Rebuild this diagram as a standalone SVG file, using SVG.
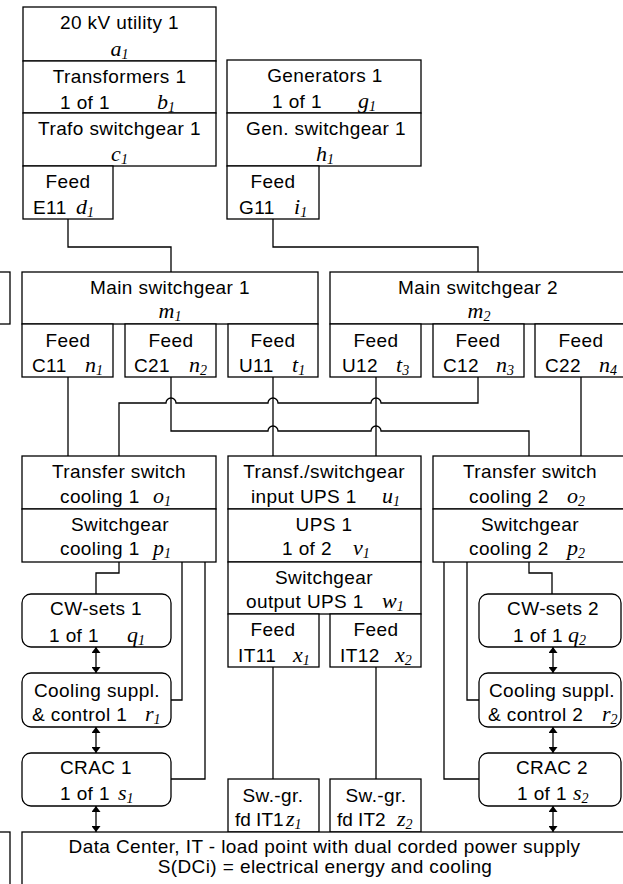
<svg xmlns="http://www.w3.org/2000/svg" width="623" height="884" viewBox="0 0 623 884">
<style>
.b{fill:#fff;stroke:#000;stroke-width:1.3}
.c{fill:none;stroke:#000;stroke-width:1.3}
text{font-family:"Liberation Sans",Arial,sans-serif;font-size:19px;letter-spacing:0.4px;fill:#000}
.m{text-anchor:middle}
.t{letter-spacing:0}
.v{font-family:"Liberation Serif","Times New Roman",serif;font-style:italic;font-size:22px;letter-spacing:0}
.s{font-size:14px}
</style>
<defs>
<marker id="ah" viewBox="0 0 10 10" refX="10" refY="5" markerWidth="6" markerHeight="9" markerUnits="userSpaceOnUse" orient="auto-start-reverse" preserveAspectRatio="none"><path d="M0,0 L10,5 L0,10 z" fill="#000"/></marker>
</defs>
<rect width="623" height="884" fill="#fff"/>

<g id="connectors">
<path class="c" d="M68,219 V247 H171 V272"/>
<path class="c" d="M273,219 V247 H478 V272"/>
<path class="c" d="M68,377 V456"/>
<path class="c" d="M478,377 V403 H381 A5,5 0 0 0 371,403 H278 A5,5 0 0 0 268,403 H176 A5,5 0 0 0 166,403 H119 V456"/>
<path class="c" d="M171,377 V431 H268 A5,5 0 0 1 278,431 H371 A5,5 0 0 1 381,431 H529 V456"/>
<path class="c" d="M273,377 V456"/>
<path class="c" d="M376,377 V456"/>
<path class="c" d="M581,377 V456"/>
<path class="c" d="M119,562 V573 H96 V594"/>
<path class="c" d="M182,562 V700 H171"/>
<path class="c" d="M205,562 V779 H171"/>
<path class="c" d="M529,562 V573 H552 V594"/>
<path class="c" d="M467,562 V700 H479"/>
<path class="c" d="M444,562 V779 H479"/>
<path class="c" d="M273,667 V779"/>
<path class="c" d="M376,667 V779"/>
<path class="c" d="M96,647 V673" marker-start="url(#ah)" marker-end="url(#ah)"/>
<path class="c" d="M96,727 V753" marker-start="url(#ah)" marker-end="url(#ah)"/>
<path class="c" d="M96,806 V832" marker-start="url(#ah)" marker-end="url(#ah)"/>
<path class="c" d="M553,647 V673" marker-start="url(#ah)" marker-end="url(#ah)"/>
<path class="c" d="M553,727 V753" marker-start="url(#ah)" marker-end="url(#ah)"/>
<path class="c" d="M553,806 V832" marker-start="url(#ah)" marker-end="url(#ah)"/>
</g>

<g id="left-partial-1"><rect class="b" x="-50" y="272" width="60" height="52"/></g>
<g id="left-partial-2"><rect class="b" x="-50" y="832" width="60" height="80"/></g>

<g id="a1"><rect class="b" x="23" y="7" width="193" height="54"/>
<text class="m" x="119.5" y="29">20 kV utility 1</text>
<text class="v m" x="119.5" y="56">a<tspan class="s" dy="3">1</tspan></text></g>

<g id="b1"><rect class="b" x="23" y="61" width="193" height="52"/>
<text class="m" x="119.5" y="83">Transformers 1</text>
<text x="60" y="109">1 of 1</text>
<text class="v" x="157" y="109">b<tspan class="s" dy="3">1</tspan></text></g>

<g id="c1"><rect class="b" x="23" y="113" width="193" height="53"/>
<text class="m" x="119.5" y="135">Trafo switchgear 1</text>
<text class="v m" x="119.5" y="161">c<tspan class="s" dy="3">1</tspan></text></g>

<g id="d1"><rect class="b" x="23" y="166" width="90" height="53"/>
<text class="m" x="68" y="188">Feed</text>
<text x="33" y="214">E11</text>
<text class="v" x="76" y="214">d<tspan class="s" dy="3">1</tspan></text></g>

<g id="g1"><rect class="b" x="227" y="60" width="194" height="53"/>
<text class="m" x="325" y="82">Generators 1</text>
<text x="272" y="108">1 of 1</text>
<text class="v" x="358" y="108">g<tspan class="s" dy="3">1</tspan></text></g>

<g id="h1"><rect class="b" x="227" y="113" width="194" height="53"/>
<text class="m" x="326" y="135">Gen. switchgear 1</text>
<text class="v m" x="325" y="161">h<tspan class="s" dy="3">1</tspan></text></g>

<g id="i1"><rect class="b" x="227" y="166" width="92" height="53"/>
<text class="m" x="273" y="188">Feed</text>
<text x="239" y="214">G11</text>
<text class="v" x="294" y="214">i<tspan class="s" dy="3">1</tspan></text></g>

<g id="m1"><rect class="b" x="22" y="272" width="296" height="52"/>
<text class="m" x="170" y="294">Main switchgear 1</text>
<text class="v m" x="170" y="318">m<tspan class="s" dy="3">1</tspan></text></g>

<g id="n1"><rect class="b" x="22" y="324" width="91" height="53"/>
<text class="m" x="68" y="347">Feed</text>
<text x="32" y="372">C11</text>
<text class="v" x="85" y="372">n<tspan class="s" dy="3">1</tspan></text></g>

<g id="n2"><rect class="b" x="125" y="324" width="91" height="53"/>
<text class="m" x="171" y="347">Feed</text>
<text x="134" y="372">C21</text>
<text class="v" x="189" y="372">n<tspan class="s" dy="3">2</tspan></text></g>

<g id="t1"><rect class="b" x="228" y="324" width="90" height="53"/>
<text class="m" x="273" y="347">Feed</text>
<text x="239" y="372">U11</text>
<text class="v" x="292" y="372">t<tspan class="s" dy="3">1</tspan></text></g>

<g id="m2"><rect class="b" x="330" y="272" width="294" height="52"/>
<text class="m" x="478" y="294">Main switchgear 2</text>
<text class="v m" x="479" y="318">m<tspan class="s" dy="3">2</tspan></text></g>

<g id="t3"><rect class="b" x="330" y="324" width="91" height="53"/>
<text class="m" x="376" y="347">Feed</text>
<text x="342" y="372">U12</text>
<text class="v" x="396" y="372">t<tspan class="s" dy="3">3</tspan></text></g>

<g id="n3"><rect class="b" x="433" y="324" width="91" height="53"/>
<text class="m" x="478" y="347">Feed</text>
<text x="443" y="372">C12</text>
<text class="v" x="496" y="372">n<tspan class="s" dy="3">3</tspan></text></g>

<g id="n4"><rect class="b" x="535" y="324" width="89" height="53"/>
<text class="m" x="581" y="347">Feed</text>
<text x="545" y="372">C22</text>
<text class="v" x="599" y="372">n<tspan class="s" dy="3">4</tspan></text></g>

<g id="o1"><rect class="b" x="22" y="456" width="194" height="53"/>
<text class="m" x="119" y="478">Transfer switch</text>
<text x="60" y="503">cooling 1</text>
<text class="v" x="153" y="503">o<tspan class="s" dy="3">1</tspan></text></g>

<g id="p1"><rect class="b" x="22" y="509" width="194" height="53"/>
<text class="m" x="120" y="531">Switchgear</text>
<text x="60" y="555">cooling 1</text>
<text class="v" x="153" y="555">p<tspan class="s" dy="3">1</tspan></text></g>

<g id="u1"><rect class="b" x="228" y="456" width="193" height="53"/>
<text class="m" x="324" y="478">Transf./switchgear</text>
<text x="251" y="503">input UPS 1</text>
<text class="v" x="382" y="503">u<tspan class="s" dy="3">1</tspan></text></g>

<g id="v1"><rect class="b" x="228" y="509" width="193" height="53"/>
<text class="m" x="324" y="531">UPS 1</text>
<text x="282" y="555">1 of 2</text>
<text class="v" x="353" y="555">v<tspan class="s" dy="3">1</tspan></text></g>

<g id="w1"><rect class="b" x="228" y="562" width="193" height="52"/>
<text class="m" x="324" y="584">Switchgear</text>
<text x="246" y="608">output UPS 1</text>
<text class="v" x="382" y="608">w<tspan class="s" dy="3">1</tspan></text></g>

<g id="x1"><rect class="b" x="228" y="614" width="91" height="53"/>
<text class="m" x="273" y="636">Feed</text>
<text x="238" y="662">IT11</text>
<text class="v" x="293" y="662">x<tspan class="s" dy="3">1</tspan></text></g>

<g id="x2"><rect class="b" x="330" y="614" width="91" height="53"/>
<text class="m" x="376" y="636">Feed</text>
<text x="340" y="662">IT12</text>
<text class="v" x="395" y="662">x<tspan class="s" dy="3">2</tspan></text></g>

<g id="o2"><rect class="b" x="433" y="456" width="191" height="53"/>
<text class="m" x="530" y="478">Transfer switch</text>
<text x="469" y="503">cooling 2</text>
<text class="v" x="567" y="503">o<tspan class="s" dy="3">2</tspan></text></g>

<g id="p2"><rect class="b" x="433" y="509" width="191" height="53"/>
<text class="m" x="530" y="531">Switchgear</text>
<text x="469" y="555">cooling 2</text>
<text class="v" x="567" y="555">p<tspan class="s" dy="3">2</tspan></text></g>

<g id="q1"><rect class="b" x="22" y="594" width="149" height="53" rx="9"/>
<text class="m" x="96" y="615">CW-sets 1</text>
<text x="49" y="642">1 of 1</text>
<text class="v" x="127" y="642">q<tspan class="s" dy="3">1</tspan></text></g>

<g id="r1"><rect class="b" x="22" y="673" width="149" height="54" rx="9"/>
<text class="m" x="97" y="697">Cooling suppl.</text>
<text x="32" y="721">&amp; control 1</text>
<text class="v" x="145" y="721">r<tspan class="s" dy="3">1</tspan></text></g>

<g id="s1"><rect class="b" x="22" y="753" width="149" height="53" rx="9"/>
<text class="m" x="96" y="774">CRAC 1</text>
<text x="60" y="800">1 of 1</text>
<text class="v" x="118" y="800">s<tspan class="s" dy="3">1</tspan></text></g>

<g id="q2"><rect class="b" x="479" y="594" width="142" height="53" rx="9"/>
<text class="m" x="553" y="615">CW-sets 2</text>
<text x="513" y="642">1 of 1</text>
<text class="v" x="568" y="642">q<tspan class="s" dy="3">2</tspan></text></g>

<g id="r2"><rect class="b" x="479" y="673" width="142" height="54" rx="9"/>
<text class="m" x="552" y="697">Cooling suppl.</text>
<text x="488" y="721">&amp; control 2</text>
<text class="v" x="602" y="721">r<tspan class="s" dy="3">2</tspan></text></g>

<g id="s2"><rect class="b" x="479" y="753" width="142" height="53" rx="9"/>
<text class="m" x="552" y="774">CRAC 2</text>
<text x="517" y="800">1 of 1</text>
<text class="v" x="573" y="800">s<tspan class="s" dy="3">2</tspan></text></g>

<g id="z1"><rect class="b" x="228" y="779" width="91" height="53"/>
<text class="m" x="273" y="802">Sw.-gr.</text>
<text class="t" x="235" y="826">fd IT1</text>
<text class="v" x="286" y="826">z<tspan class="s" dy="3">1</tspan></text></g>

<g id="z2"><rect class="b" x="330" y="779" width="91" height="53"/>
<text class="m" x="376" y="802">Sw.-gr.</text>
<text class="t" x="337" y="826">fd IT2</text>
<text class="v" x="397" y="826">z<tspan class="s" dy="3">2</tspan></text></g>

<g id="dc"><rect class="b" x="22" y="832" width="602" height="80"/>
<text class="m" x="324.5" y="853">Data Center, IT - load point with dual corded power supply</text>
<text class="m" x="325" y="873">S(DCi) = electrical energy and cooling</text></g>
</svg>
